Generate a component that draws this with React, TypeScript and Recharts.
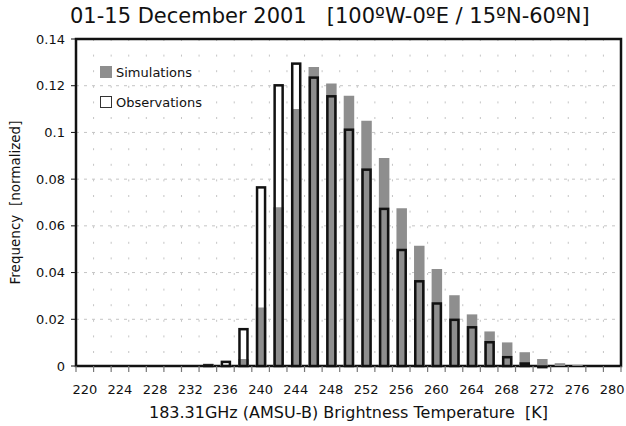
import { BarChart, Bar, XAxis, YAxis, CartesianGrid, Label, ReferenceArea } from 'recharts'

// brightness temperature bins [K], 2 K wide
const temps = [
  220, 222, 224, 226, 228, 230, 232, 234, 236, 238, 240, 242, 244, 246, 248, 250,
  252, 254, 256, 258, 260, 262, 264, 266, 268, 270, 272, 274, 276, 278, 280,
]

const simulations = [
  0, 0, 0, 0, 0, 0, 0, 0.001, 0.0005, 0.003, 0.025, 0.068, 0.11, 0.128, 0.121, 0.1157,
  0.105, 0.089, 0.0675, 0.0515, 0.0415, 0.0303, 0.0221, 0.0148, 0.0101, 0.0059, 0.003, 0.0012, 0.0004, 0, 0,
]

const observations = [
  0, 0, 0, 0, 0, 0, 0, 0.0008, 0.0023, 0.0163, 0.077, 0.1207, 0.13, 0.124, 0.116, 0.1017,
  0.0846, 0.0678, 0.0502, 0.0368, 0.0273, 0.0203, 0.0171, 0.0107, 0.0043, 0.0016, 0.0003, 0, 0, 0, 0,
]

const yTicks = [0, 0.02, 0.04, 0.06, 0.08, 0.1, 0.12, 0.14]

const FONT = '"DejaVu Sans", Verdana, sans-serif'
const GREY = '#8e8e8e'
const BAR = 10.5
const LINE = 2.5

const data = temps.map((t, i) => ({ t, sim: simulations[i], obs: observations[i] }))

const ObsOutline = (props: any) => {
  const { x, y, width, height } = props
  if (!height || height <= 0) return null
  const h = Math.max(height - LINE / 2, 0.6)
  return (
    <rect
      x={x + LINE / 2}
      y={y + LINE / 2}
      width={width - LINE}
      height={h}
      fill="none"
      stroke="#111"
      strokeWidth={LINE}
    />
  )
}

// label on every other bin, small tick on each bin edge
const TempTick = (props: any) => {
  const { x, y, payload, index } = props
  const half = payload?.offset ?? 0
  const edge = x - half
  return (
    <g>
      <line x1={edge} y1={y} x2={edge} y2={y + 6} stroke="#777" strokeWidth={1.2} />
      {index === temps.length - 1 && (
        <line x1={x + half} y1={y} x2={x + half} y2={y + 6} stroke="#777" strokeWidth={1.2} />
      )}
      {index % 2 === 0 && (
        <text x={x} y={y + 28} textAnchor="middle" fontFamily={FONT} fontSize={13} fill="#111">
          {payload.value}
        </text>
      )}
    </g>
  )
}

// vertical grid on the bin edges of the band axis
const binEdgeLines = ({ offset }: any) => {
  if (!offset) return []
  const step = offset.width / temps.length
  return [...temps.map((_, i) => offset.left + i * step), offset.left + offset.width]
}

const YTitle = (props: any) => {
  const { x, y, height } = props.viewBox
  const cx = x + 15
  const cy = y + height / 2
  return (
    <text
      x={cx}
      y={cy}
      transform={`rotate(-90 ${cx} ${cy})`}
      textAnchor="middle"
      dominantBaseline="central"
      fontFamily={FONT}
      fontSize={13.5}
      fill="#111"
    >
      {'Frequency\u00a0\u00a0[normalized]'}
    </text>
  )
}

export default function App() {
  return (
    <div style={{ position: 'absolute', left: 0, top: 0, width: 626, height: 426, background: '#fff' }}>
      <div
        style={{
          position: 'absolute',
          left: 70,
          top: 4,
          fontFamily: FONT,
          fontSize: 21,
          color: '#111',
          whiteSpace: 'pre',
        }}
      >
        {'01-15 December 2001   [100ºW-0ºE / 15ºN-60ºN]'}
      </div>

      <BarChart
        width={626}
        height={426}
        data={data}
        margin={{ top: 39, right: 5, bottom: 0, left: 0 }}
        barSize={BAR}
        barGap={-BAR}
        barCategoryGap={0}
      >
        <CartesianGrid vertical={false} stroke="#c4c4c4" strokeDasharray="3 5" />
        <CartesianGrid
          horizontal={false}
          stroke="#c4c4c4"
          strokeDasharray="2 13.6"
          verticalCoordinatesGenerator={binEdgeLines}
        />
        <XAxis
          dataKey="t"
          interval={0}
          tickLine={false}
          tickSize={0}
          tickMargin={0}
          tick={<TempTick />}
          axisLine={false}
          height={60}
        >
          <Label
            value={'183.31GHz (AMSU-B) Brightness Temperature\u00a0\u00a0[K]'}
            position="insideBottom"
            offset={8}
            style={{ fontFamily: FONT, fontSize: 16, fill: '#111' }}
          />
        </XAxis>
        <YAxis
          domain={[0, 0.14]}
          ticks={yTicks}
          width={76}
          tickSize={5}
          tickMargin={6}
          tick={{ fontFamily: FONT, fontSize: 13, fill: '#111' }}
          tickLine={{ stroke: '#111' }}
          axisLine={false}
        >
          <Label content={YTitle} />
        </YAxis>
        <Bar dataKey="obs" fill="#fff" isAnimationActive={false} />
        <Bar dataKey="sim" fill={GREY} isAnimationActive={false} />
        <Bar dataKey="obs" shape={ObsOutline} isAnimationActive={false} />
        <ReferenceArea
          y1={0}
          y2={0.14}
          fill="none"
          fillOpacity={0}
          stroke="#111"
          strokeWidth={LINE}
          ifOverflow="visible"
        />
      </BarChart>

      <div style={{ position: 'absolute', left: 100, top: 64, fontFamily: FONT, fontSize: 13, color: '#111' }}>
        <div style={{ display: 'flex', alignItems: 'center', height: 16 }}>
          <span style={{ width: 12, height: 12, background: GREY, marginRight: 4, display: 'inline-block' }} />
          Simulations
        </div>
        <div style={{ display: 'flex', alignItems: 'center', height: 16, marginTop: 14 }}>
          <span
            style={{
              width: 10,
              height: 10,
              border: '1px solid #333',
              background: '#fff',
              marginRight: 4,
              display: 'inline-block',
            }}
          />
          Observations
        </div>
      </div>
    </div>
  )
}
